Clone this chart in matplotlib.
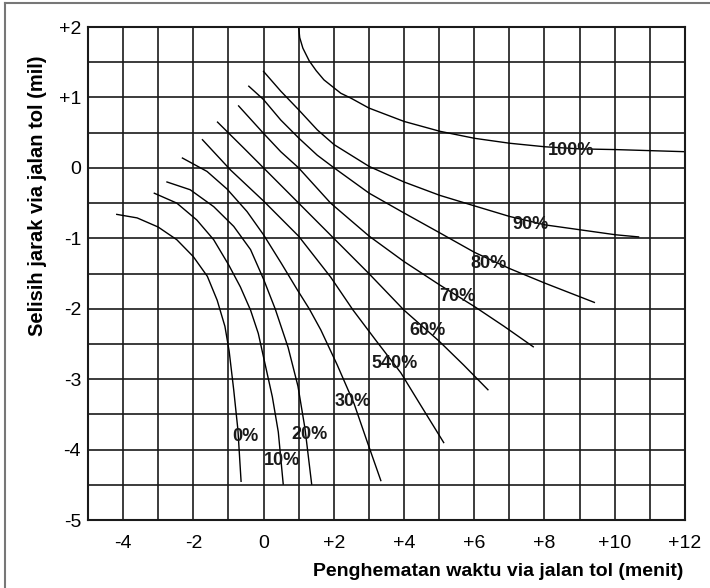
import numpy as np
import matplotlib.pyplot as plt
from matplotlib.lines import Line2D

plt.rcParams['font.family'] = ['Liberation Sans', 'DejaVu Sans']

# curves of the percentage of drivers choosing the toll road
x_0 = [-4.18, -3.6, -3.0, -2.47, -2.0, -1.6, -1.32, -1.1, -0.98, -0.85, -0.73, -0.64]
y_0 = [-0.66, -0.71, -0.84, -1.02, -1.26, -1.54, -1.88, -2.25, -2.6, -3.15, -3.72, -4.45]

x_10 = [-3.11, -2.47, -1.9, -1.42, -0.99, -0.66, -0.37, -0.15, 0.05, 0.25, 0.42, 0.56]
y_10 = [-0.36, -0.50, -0.74, -1.02, -1.38, -1.69, -2.02, -2.35, -2.8, -3.25, -3.75, -4.49]

x_20 = [-2.75, -2.09, -1.42, -0.85, -0.37, 0.0, 0.33, 0.7, 0.98, 1.18, 1.37]
y_20 = [-0.20, -0.31, -0.55, -0.83, -1.16, -1.58, -2.0, -2.55, -3.1, -3.7, -4.49]

x_30 = [-2.31, -1.61, -1.04, -0.47, 0.0, 0.5, 0.96, 1.3, 1.63, 2.1, 2.58, 2.96, 3.34]
y_30 = [0.14, -0.05, -0.30, -0.62, -0.95, -1.35, -1.73, -2.0, -2.30, -2.8, -3.35, -3.9, -4.44]

x_40 = [-1.74, -0.94, 0.0, 1.0, 1.91, 2.55, 3.2, 3.91, 4.45, 5.13]
y_40 = [0.40, -0.03, -0.47, -0.97, -1.55, -2.02, -2.45, -2.91, -3.35, -3.90]

x_60 = [-1.31, -0.56, 0.0, 1.0, 2.0, 3.0, 4.0, 5.0, 5.7, 6.39]
y_60 = [0.65, 0.28, 0.0, -0.5, -1.0, -1.5, -2.02, -2.46, -2.8, -3.15]

x_70 = [-0.71, 0.0, 0.49, 1.0, 1.91, 3.01, 4.0, 5.01, 6.01, 6.85, 7.68]
y_70 = [0.88, 0.49, 0.23, 0.0, -0.50, -0.97, -1.33, -1.66, -1.97, -2.25, -2.54]

x_80 = [-0.42, 0.0, 0.49, 1.01, 1.53, 2.01, 3.01, 4.0, 5.01, 6.01, 7.01, 8.03, 9.42]
y_80 = [1.16, 0.97, 0.68, 0.42, 0.18, 0.0, -0.36, -0.64, -0.92, -1.20, -1.43, -1.64, -1.91]

x_90 = [0.0, 0.49, 1.01, 1.53, 2.01, 3.01, 4.0, 5.02, 6.01, 7.01, 8.03, 9.03, 10.03, 10.68]
y_90 = [1.37, 1.09, 0.82, 0.54, 0.33, 0.02, -0.20, -0.39, -0.54, -0.69, -0.81, -0.88, -0.95, -0.98]

x_100 = [1.0, 1.03, 1.12, 1.3, 1.5, 1.72, 2.2, 2.49, 3.0, 4.0, 5.02, 6.01, 7.01, 8.01, 9.0, 10.03, 12.0]
y_100 = [2.0, 1.85, 1.70, 1.52, 1.38, 1.25, 1.06, 0.99, 0.85, 0.66, 0.52, 0.42, 0.35, 0.30, 0.27, 0.26, 0.23]

curves = [(x_0, y_0), (x_10, y_10), (x_20, y_20), (x_30, y_30), (x_40, y_40),
          (x_60, y_60), (x_70, y_70), (x_80, y_80), (x_90, y_90), (x_100, y_100)]

label_text = ['0%', '10%', '20%', '30%', '540%', '60%', '70%', '80%', '90%', '100%']
label_x = [-0.51, 0.52, 1.3, 2.55, 3.74, 4.68, 5.52, 6.42, 7.6, 8.77]
label_y = [-3.82, -4.16, -3.78, -3.32, -2.78, -2.31, -1.83, -1.36, -0.81, 0.24]

x_ticks = [-4, -2, 0, 2, 4, 6, 8, 10, 12]
x_tick_labels = ['-4', '-2', '0', '+2', '+4', '+6', '+8', '+10', '+12']
y_ticks = [-5, -4, -3, -2, -1, 0, 1, 2]
y_tick_labels = ['-5', '-4', '-3', '-2', '-1', '0', '+1', '+2']

fig = plt.figure(figsize=(7.1, 5.88), dpi=100)
ax = fig.add_axes([0.1239, 0.1156, 0.8408, 0.8384])

ax.set_xlim(-5, 12)
ax.set_ylim(-5, 2)

# grid: one minute across, half a mile up
ax.set_xticks(np.arange(-5, 13, 1), minor=True)
ax.set_yticks(np.arange(-5, 2.5, 0.5), minor=True)
ax.set_xticks(x_ticks, labels=x_tick_labels, fontsize=14)
ax.set_yticks(y_ticks, labels=y_tick_labels, fontsize=14)
ax.grid(True, which='both', color='#1a1a1a', lw=1.2)
ax.set_axisbelow(True)

ax.tick_params(which='both', length=0)
ax.tick_params(axis='x', pad=11)
ax.tick_params(axis='y', pad=5)

for sp in ax.spines.values():
    sp.set_linewidth(1.5)
    sp.set_color('#1a1a1a')

for cx, cy in curves:
    ax.plot(cx, cy, color='black', lw=1.0, solid_joinstyle='round')

for t, lx, ly in zip(label_text, label_x, label_y):
    ax.text(lx, ly, t, fontsize=13, fontweight='bold', color='#1a1a1a',
            ha='center', va='center')

fig.text(683 / 710, 1 - 571 / 588, 'Penghematan waktu via jalan tol (menit)',
         fontsize=14, fontweight='bold', ha='right', va='center')
fig.text(38 / 710, 1 - 196 / 588, 'Selisih jarak via jalan tol (mil)',
         fontsize=14.5, fontweight='bold', ha='center', va='center', rotation=90)

# outer frame on the left and top
fig.add_artist(Line2D([5 / 710, 5 / 710], [0, 1 - 3 / 588], color='#777777', lw=1.5))
fig.add_artist(Line2D([5 / 710, 1], [1 - 3 / 588, 1 - 3 / 588], color='#777777', lw=1.5))

fig.savefig('out.png', dpi=100)
